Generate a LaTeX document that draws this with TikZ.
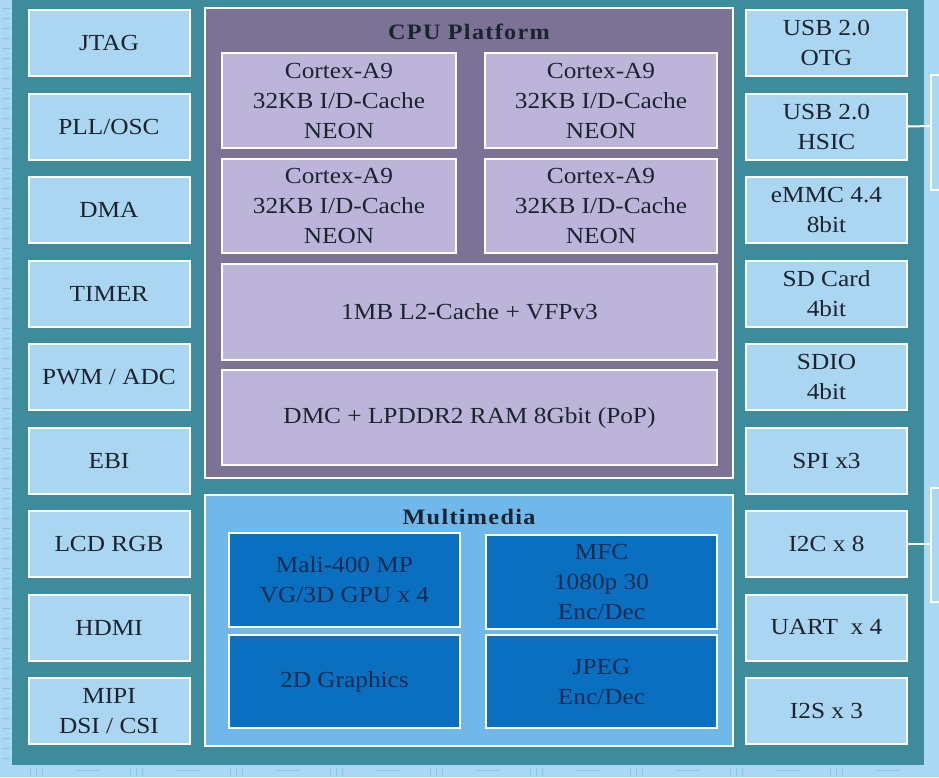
\documentclass[tikz,border=0pt]{standalone}
\usepackage{fontspec}
\setmainfont{Liberation Serif}[FakeStretch=1.1]
\definecolor{teal1}{HTML}{3E8B9B}
\definecolor{strip}{HTML}{AAD8F2}
\definecolor{tick}{HTML}{8CC4E4}
\definecolor{lbox}{HTML}{ABD6F1}
\definecolor{cpuout}{HTML}{7B7296}
\definecolor{cpuin}{HTML}{BCB5D9}
\definecolor{mmout}{HTML}{70B8EA}
\definecolor{mmin}{HTML}{0B6FC0}
\definecolor{txt}{HTML}{1B2230}
\definecolor{mmtxt}{HTML}{142C52}
\tikzset{
  blk/.style={draw=white, line width=2pt, inner sep=0pt, align=center, text=txt,
    font=\fontsize{23}{30}\selectfont},
  io/.style={blk, fill=lbox, minimum width=161pt, minimum height=66pt},
  core/.style={blk, fill=cpuin},
  grp/.style={draw=white, line width=2pt, inner sep=0pt},
  mm/.style={blk, fill=mmin, text=mmtxt, minimum width=231pt},
  ttl/.style={font=\bfseries\fontsize{22}{26}\selectfont\addfontfeature{LetterSpace=6}, text=txt, inner sep=0pt},
  wire/.style={draw=white, line width=2pt}
}
\begin{document}
\begin{tikzpicture}[x=1pt,y=-1pt]
\useasboundingbox (0,0) rectangle (939,777);
% background strips
\fill[strip] (0,0) rectangle (939,777);
\foreach \y in {8,18,...,765} \draw[tick, line width=0.8pt] (2,\y) -- (10,\y);
\foreach \g in {30,130,230,330,430,530,630,730,830} {
  \foreach \d in {0,6,12} \draw[tick, line width=1pt] (\g+\d,768) -- (\g+\d,777);
  \draw[tick, line width=1pt] (\g+45,770) -- (\g+70,770);
}
\fill[teal1] (12,0) rectangle (924,765);
% right side external boxes
\draw[white, line width=2pt, fill=strip] (931,75) rectangle (950,190);
\draw[white, line width=2pt, fill=strip] (931,488) rectangle (950,602);
% left column
\foreach \t [count=\i from 0] in {JTAG,PLL/OSC,DMA,TIMER,PWM / ADC,EBI,LCD RGB,HDMI,{MIPI\\DSI / CSI}} {
  \node[io] (L\i) at (109,{43+83.5*\i}) {\t};
}
% right column
\foreach \t [count=\i from 0] in {{USB 2.0\\OTG},{USB 2.0\\HSIC},{eMMC 4.4\\8bit},{SD Card\\4bit},{SDIO\\4bit},SPI x3,I2C x 8,UART\ \ x 4,I2S x 3} {
  \node[io] (R\i) at (826.5,{43+83.5*\i}) {\t};
}
\coordinate (hsicext) at (931,126);
\coordinate (i2cext) at (931,544);
\draw[wire] (R1.east) -- (hsicext);
\draw[wire] (R6.east) -- (i2cext);
% CPU platform
\node[grp, fill=cpuout, minimum width=528pt, minimum height=470pt] (cpu) at (469,243) {};
\node[ttl] (cputitle) at (469,32) {CPU Platform};
\node[core, minimum width=234pt, minimum height=95pt] (c1) at (339,100.5) {Cortex-A9\\32KB I/D-Cache\\NEON};
\node[core, minimum width=232pt, minimum height=95pt] (c2) at (601,100.5) {Cortex-A9\\32KB I/D-Cache\\NEON};
\node[core, minimum width=234pt, minimum height=94pt] (c3) at (339,206) {Cortex-A9\\32KB I/D-Cache\\NEON};
\node[core, minimum width=232pt, minimum height=94pt] (c4) at (601,206) {Cortex-A9\\32KB I/D-Cache\\NEON};
\node[core, minimum width=495pt, minimum height=96pt] (l2) at (469.5,312) {1MB L2-Cache + VFPv3};
\node[core, minimum width=495pt, minimum height=95pt] (dmc) at (469.5,417.5) {DMC + LPDDR2 RAM 8Gbit (PoP)};
% Multimedia
\node[grp, fill=mmout, minimum width=528pt, minimum height=251pt] (mmbox) at (469,620.5) {};
\node[ttl] (mmtitle) at (469,517) {Multimedia};
\node[mm, minimum height=94pt] (mali) at (344.5,580) {Mali-400 MP\\VG/3D GPU x 4};
\node[mm, minimum height=94pt] (mfc) at (601.5,582) {MFC\\1080p 30\\Enc/Dec};
\node[mm, minimum height=93pt] (g2d) at (344.5,681.5) {2D Graphics};
\node[mm, minimum height=93pt] (jpeg) at (601.5,681.5) {JPEG\\Enc/Dec};
\end{tikzpicture}
\end{document}
